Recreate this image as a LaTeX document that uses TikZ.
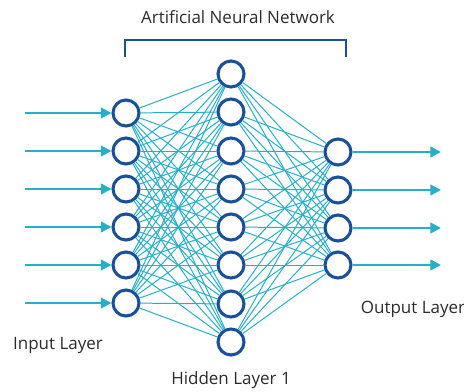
\documentclass[tikz,border=0pt]{standalone}
\usepackage{fontspec}
\setmainfont{Open Sans}
\usepackage{tikz}
\usetikzlibrary{arrows.meta}

\definecolor{nodeblue}{HTML}{1A4F9A}
\definecolor{linkteal}{HTML}{27AFC9}
\definecolor{labelgray}{HTML}{2B2B2B}

\tikzset{
  neuron/.style={circle,draw=nodeblue,line width=2.6pt,fill=white,minimum size=0.78cm,inner sep=0pt},
  link/.style={linkteal,line width=0.85pt},
  signal/.style={linkteal,line width=2pt,-{Triangle[length=9pt,width=9pt]}},
  layerlabel/.style={text=labelgray,font=\fontsize{14.5}{17}\selectfont}
}

\begin{document}
\begin{tikzpicture}[x=0.03cm,y=-0.03cm]
\useasboundingbox (0,0) rectangle (464,392);
% layers
\foreach \i/\y in {1/113,2/151,3/189,4/227,5/265,6/303}
  \node[neuron] (in\i) at (126,\y) {};
\foreach \i/\y in {1/74,2/112,3/151,4/189,5/227,6/265,7/304,8/342}
  \node[neuron] (hid\i) at (231,\y) {};
\foreach \i/\y in {1/152,2/190,3/228,4/265}
  \node[neuron] (out\i) at (338,\y) {};
% weights
\foreach \i in {1,...,6}
  \foreach \j in {1,...,8}
    \draw[link] (in\i) -- (hid\j);
\foreach \j in {1,...,8}
  \foreach \k in {1,...,4}
    \draw[link] (hid\j) -- (out\k);
% inputs and outputs
\foreach \i in {1,...,6}{
  \coordinate (src\i) at (25,0 |- in\i);
  \draw[signal] (src\i) -- (in\i);
}
\foreach \k in {1,...,4}{
  \coordinate (dst\k) at (441,0 |- out\k);
  \draw[signal] (out\k) -- (dst\k);
}
% bracket and labels
\node[layerlabel] (title) at (238,17) {Artificial Neural Network};
\coordinate (bl) at (125,57);
\coordinate (br) at (346,57);
\draw[nodeblue,line width=1.6pt] (bl) -- ++(0,-17) -| (br);
\node[layerlabel] (inlabel) at (58,345) {Input Layer};
\node[layerlabel] (hidlabel) at (231,380) {Hidden Layer 1};
\node[layerlabel] (outlabel) at (413,309) {Output Layer};
\end{tikzpicture}
\end{document}
